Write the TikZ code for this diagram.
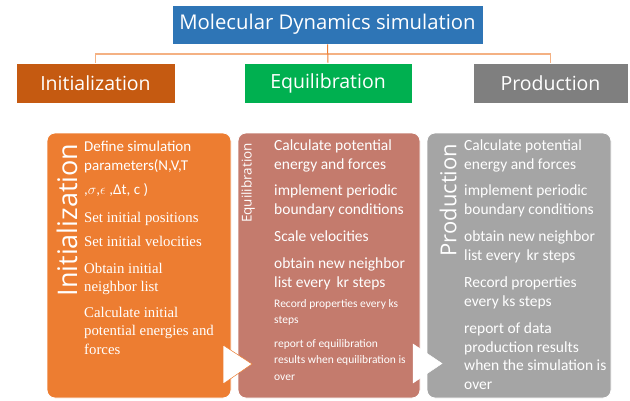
\documentclass[tikz,border=0pt]{standalone}
\usepackage{fontspec}
\setmainfont{Carlito}
\newfontfamily\headfont{Open Sans}
\newfontfamily\camfont{Liberation Serif}
\definecolor{titleblue}{HTML}{2E75B6}
\definecolor{initdark}{HTML}{C55A11}
\definecolor{eqgreen}{HTML}{00B050}
\definecolor{prodgray}{HTML}{7F7F7F}
\definecolor{panelorange}{HTML}{ED7D31}
\definecolor{panelbrown}{HTML}{C47B6D}
\definecolor{panelgray}{HTML}{A5A5A5}
\definecolor{linepeach}{HTML}{F4B183}
\definecolor{lineorange}{HTML}{ED7D31}
\begin{document}
\begin{tikzpicture}[x=1pt,y=-1pt,
  headbox/.style={draw=white, line width=0.6pt, inner sep=0pt, text=white,
    font=\headfont\fontsize{19.5}{22}\selectfont},
  panel/.style={draw=white, line width=0.8pt, rounded corners=8pt, inner sep=0pt,
    minimum height=265pt},
  sidelabel/.style={rotate=90, inner sep=0pt, text=white, font=\headfont},
  item/.style={anchor=north west, align=left, inner sep=0pt, text=white,
    font=\fontsize{15.5}{18.5}\selectfont},
  inititem/.style={item, font=\fontsize{15}{18.5}\selectfont},
  seritem/.style={item, font=\camfont\fontsize{14.8}{18.5}\selectfont},
  smallitem/.style={item, font=\fontsize{11.5}{16.5}\selectfont},
  chevron/.style={fill=white, line width=0.5pt}
]
\useasboundingbox (0,0) rectangle (630,400);

% title and the three stage headers
\node[headbox, fill=titleblue, minimum width=311pt, minimum height=39pt,
  font=\headfont\fontsize{20.3}{23}\selectfont] (title) at (327.5,24.5) {Molecular Dynamics simulation};
\node[headbox, fill=initdark, minimum width=159pt, minimum height=40pt] (inith) at (95.5,83) {Initialization};
\node[headbox, fill=eqgreen, minimum width=168pt, minimum height=40pt] (eqh) at (328,83) {Equilibration};
\node[headbox, fill=prodgray, minimum width=155pt, minimum height=40pt] (prodh) at (550.5,83) {Production};

% connectors from the title to the headers
\coordinate (bus) at (328,54);
\draw[linepeach, line width=1.6pt] (inith.north) |- (bus) -| (prodh.north);
\draw[lineorange, line width=1pt] (title.south) -- (eqh.north);

% stage panels
\node[panel, fill=panelorange, minimum width=184pt] (initp) at (139,265.5) {};
\node[panel, fill=panelbrown, minimum width=182pt] (eqp) at (329,265.5) {};
\node[panel, fill=panelgray, minimum width=184pt] (prodp) at (519,265.5) {};

% chevrons between panels
\draw[chevron, draw=panelorange] (223,345) -- (252,364) -- (223,384) -- cycle;
\draw[chevron, draw=white] (413,344) -- (442,363.5) -- (413,383) -- cycle;

% rotated panel titles
\node[sidelabel, font=\headfont\fontsize{27}{29}\selectfont] (initl) at (67,220) {Initialization};
\node[sidelabel, font=\headfont\fontsize{13.5}{15}\selectfont] (eql) at (248,183) {Equilibration};
\node[sidelabel, font=\headfont\fontsize{22}{24}\selectfont] (prodl) at (448,200) {Production};

% initialization steps
\node[inititem] (i1) at (84,141) {Define simulation\\parameters(N,V,T};
\node[inititem] (i2) at (84,183) {,$\sigma$,$\epsilon$ ,Δt, c )};
\node[seritem] (i3) at (84,212) {Set initial positions};
\node[seritem] (i4) at (84,236) {Set initial velocities};
\node[seritem] (i5) at (84,263) {Obtain initial\\neighbor list};
\node[seritem] (i6) at (84,307) {Calculate initial\\potential energies and\\forces};

% equilibration steps
\node[item] (e1) at (274,140) {Calculate potential\\energy and forces};
\node[item] (e2) at (274,185) {implement periodic\\boundary conditions};
\node[item] (e3) at (274,231) {Scale velocities};
\node[item] (e4) at (274,258) {obtain new neighbor\\list every\, kr steps};
\node[smallitem] (e5) at (274,299) {Record properties every ks\\steps};
\node[smallitem] (e6) at (274,339) {report of equilibration\\results when equilibration is\\over};

% production steps
\node[item] (p1) at (464,140) {Calculate potential\\energy and forces};
\node[item] (p2) at (464,185) {implement periodic\\boundary conditions};
\node[item] (p3) at (464,231) {obtain new neighbor\\list every\, kr steps};
\node[item] (p4) at (464,277) {Record properties\\every ks steps};
\node[item] (p5) at (464,323) {report of data\\production results\\when the simulation is\\over};
\end{tikzpicture}
\end{document}
